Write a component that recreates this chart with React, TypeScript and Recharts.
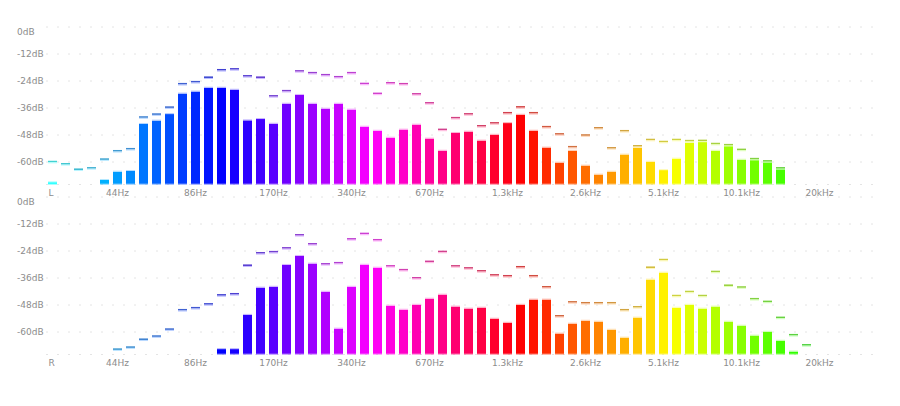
import React from 'react';
import { ComposedChart, Bar, Line, XAxis, YAxis, CartesianGrid } from 'recharts';

// 1/6-octave bands, 64 slots (only the first ~59 carry signal)
const BAND_COUNT = 64;
const FLOOR_DB = -70;
const DB_TICKS = [0, -12, -24, -36, -48, -60];
const FREQ_TICK_INDEX = [0, 5, 11, 17, 23, 29, 35, 41, 47, 53, 59];
const FREQ_LABELS = ['', '44Hz', '86Hz', '170Hz', '340Hz', '670Hz', '1.3kHz', '2.6kHz', '5.1kHz', '10.1kHz', '20kHz'];

const LEFT_LEVEL = [
  -69.0, null, null, null, -68.0, -64.3, -64.0, -43.1, -41.6, -38.7,
  -29.6, -28.7, -27.0, -27.0, -27.9, -41.5, -40.9, -43.0, -34.1, -30.2,
  -34.1, -36.3, -34.1, -36.7, -44.3, -46.1, -49.2, -45.6, -43.4, -49.6,
  -55.0, -47.1, -46.5, -50.5, -47.9, -42.7, -39.0, -46.1, -53.6, -60.3,
  -55.0, -61.6, -65.6, -64.3, -56.7, -53.6, -59.9, -63.6, -58.5, -51.4,
  -51.0, -55.0, -52.7, -59.0, -59.0, -59.9, -63.0,
];
const LEFT_PEAK = [
  -59.9, -60.9, -63.3, -62.7, -58.8, -55.1, -54.2, -40.1, -38.8, -35.7,
  -25.3, -24.4, -22.4, -19.1, -18.7, -21.8, -22.4, -30.7, -28.4, -19.6,
  -20.4, -21.3, -22.2, -20.4, -25.2, -29.6, -24.9, -25.3, -29.8, -33.8,
  -45.6, -40.4, -38.7, -44.0, -42.7, -38.2, -35.6, -38.2, -44.4, -47.6,
  -53.3, -48.1, -44.9, -53.8, -46.2, -52.9, -50.1, -51.0, -50.1, -50.6,
  -50.5, -51.9, -52.4, -54.5, -58.6, -59.6, -62.7,
];
const RIGHT_LEVEL = [
  null, null, null, null, null, null, null, null, null, null,
  null, null, null, -67.6, -67.6, -52.4, -40.3, -39.9, -30.2, -26.2,
  -29.6, -42.1, -58.5, -39.9, -30.1, -31.4, -48.3, -50.1, -47.9, -45.2,
  -43.4, -48.7, -49.6, -49.2, -54.1, -55.9, -47.9, -45.6, -45.6, -60.7,
  -56.3, -55.0, -55.4, -59.0, -62.5, -53.6, -36.7, -33.6, -49.2, -47.9,
  -49.6, -48.7, -55.4, -57.2, -61.6, -59.9, -63.9, -68.7,
];
const RIGHT_PEAK = [
  null, null, null, null, null, -67.7, -66.8, -63.3, -61.9, -58.8,
  -50.2, -49.3, -47.6, -43.6, -43.1, -30.4, -24.9, -24.4, -22.7, -16.9,
  -20.9, -29.8, -29.3, -18.7, -16.3, -19.1, -30.7, -32.4, -36.0, -28.7,
  -24.3, -30.7, -31.6, -32.9, -34.7, -35.1, -31.1, -35.1, -40.0, -52.9,
  -46.7, -47.1, -47.1, -47.1, -50.2, -48.9, -31.3, -27.9, -43.9, -42.1,
  -43.9, -33.2, -39.3, -40.1, -45.3, -46.5, -53.6, -61.3, -65.8,
];

// cyan -> blue -> magenta -> red -> yellow -> green across the bands
const hueOf = (i: number) => (i <= 13 ? 180 + 4.6 * i : 240 + 5.2 * (i - 13)) % 360;
const FONT = '"DejaVu Sans", sans-serif';
const LABEL_COLOR = '#8c8c8c';

const buildRows = (level: (number | null)[], peak: (number | null)[]) =>
  Array.from({ length: BAND_COUNT }, (_, i) => ({
    i,
    level: level[i] ?? null,
    peak: peak[i] ?? null,
  }));

const BarShape = (props: any) => {
  const { x, y, width, height, payload } = props;
  if (!height || height <= 0 || !payload) return <g />;
  const h = hueOf(payload.i);
  return (
    <g>
      <rect x={x} y={y} width={width} height={height} fill={`hsl(${h},100%,50%)`} />
      <rect x={x} y={y - 1} width={width} height={1} fill={`hsl(${h},100%,85%)`} />
      <rect x={x} y={y + height - 1} width={width} height={1} fill={`hsl(${h},100%,70%)`} />
    </g>
  );
};

const PeakDot = (props: any) => {
  const { cx, cy, index, value, payload } = props;
  if (value == null || cy == null || isNaN(cy)) return <g key={`p${index}`} />;
  const h = hueOf(payload ? payload.i : index);
  return (
    <g key={`p${index}`}>
      <rect x={cx - 4.5} y={cy - 1} width={9} height={1.6} fill={`hsl(${h},62%,54%)`} />
      <rect x={cx - 4.5} y={cy + 0.6} width={9} height={1} fill={`hsl(${h},100%,86%)`} />
    </g>
  );
};

const DbTick = (props: any) => {
  const { y, payload } = props;
  return (
    <text
      x={17}
      y={payload.value === 0 ? y + 5 : y}
      dominantBaseline="central"
      textAnchor="start"
      fontSize={9}
      fontFamily={FONT}
      fill={LABEL_COLOR}
    >
      {`${payload.value}dB`}
    </text>
  );
};

const makeFreqTick = (channel: string) => (props: any) => {
  const { x, y, payload } = props;
  const idx = FREQ_TICK_INDEX.indexOf(payload.value);
  const first = idx === 0;
  return (
    <text
      x={first ? x - 4 : x}
      y={y + 8.5}
      dominantBaseline="central"
      textAnchor={first ? 'start' : 'middle'}
      fontSize={9}
      fontFamily={FONT}
      fill={LABEL_COLOR}
    >
      {first ? channel : FREQ_LABELS[idx]}
    </text>
  );
};

const Spectrum: React.FC<{ channel: string; rows: any[]; top: number }> = ({ channel, rows, top }) => (
  <div style={{ position: 'absolute', left: 0, top }}>
    <ComposedChart
      width={900}
      height={200}
      data={rows}
      margin={{ top: 27, right: 22, bottom: 0, left: 6 }}
      barCategoryGap={0}
    >
      <CartesianGrid vertical={false} stroke="#e4e4e4" strokeDasharray="2 9" />
      <XAxis
        dataKey="i"
        type="category"
        ticks={FREQ_TICK_INDEX}
        interval={0}
        height={15.5}
        tickSize={0}
        tickMargin={0}
        axisLine={false}
        tickLine={false}
        tick={makeFreqTick(channel)}
      />
      <YAxis
        type="number"
        domain={[FLOOR_DB, 0]}
        ticks={DB_TICKS}
        allowDataOverflow
        width={40}
        axisLine={false}
        tickLine={false}
        tick={<DbTick />}
      />
      <Bar
        dataKey={(d: any) => (d.level == null ? null : [FLOOR_DB, d.level])}
        barSize={9}
        shape={<BarShape />}
        isAnimationActive={false}
      />
      <Line
        dataKey="peak"
        stroke="none"
        dot={(p: any) => <PeakDot key={`pk${p.index}`} {...p} />}
        activeDot={false}
        isAnimationActive={false}
      />
    </ComposedChart>
  </div>
);

export default function App() {
  return (
    <div style={{ position: 'absolute', left: 0, top: 0, width: 900, height: 406, background: '#fff' }}>
      <Spectrum channel="L" rows={buildRows(LEFT_LEVEL, LEFT_PEAK)} top={0} />
      <Spectrum channel="R" rows={buildRows(RIGHT_LEVEL, RIGHT_PEAK)} top={170} />
    </div>
  );
}
